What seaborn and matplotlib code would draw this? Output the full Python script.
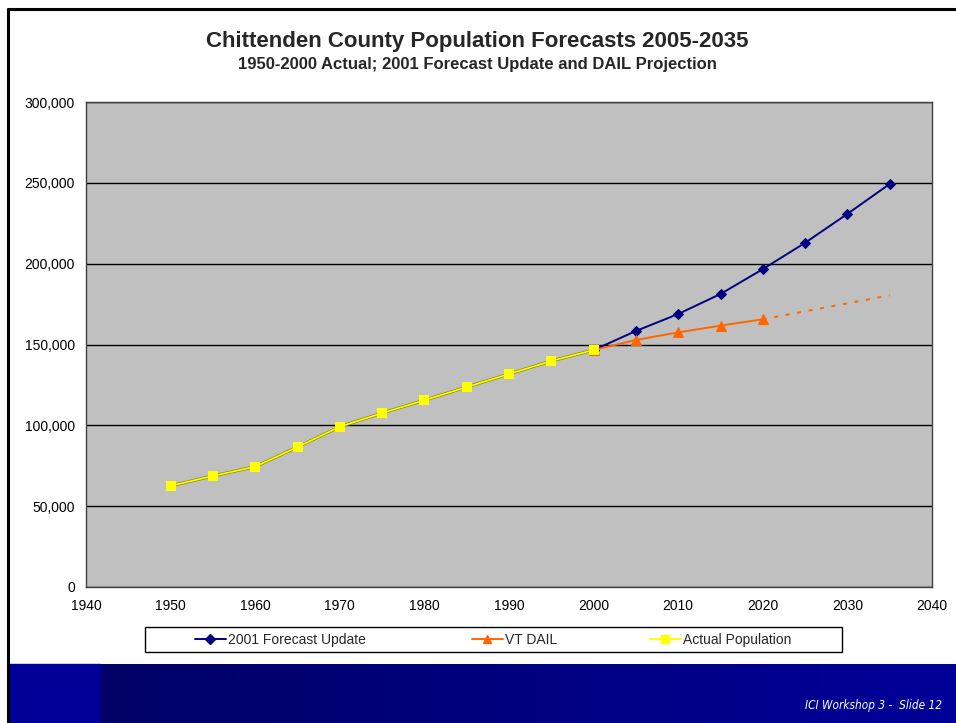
import numpy as np
import pandas as pd
import matplotlib
matplotlib.use("Agg")
import matplotlib.pyplot as plt
import matplotlib.patheffects as pe
from matplotlib.lines import Line2D
from matplotlib.ticker import FuncFormatter, MultipleLocator
import seaborn as sns

# Population series
actual_years = [1950, 1955, 1960, 1965, 1970, 1975, 1980, 1985, 1990, 1995, 2000]
actual_pop = [62570, 68700, 74425, 86600, 99131, 107600, 115534, 123700, 131761, 139800, 146571]

forecast_years = [2000, 2005, 2010, 2015, 2020, 2025, 2030, 2035]
forecast_pop = [146571, 158350, 168870, 181240, 196600, 212900, 230800, 249300]

dail_years = [2000, 2005, 2010, 2015, 2020]
dail_pop = [146571, 152800, 157500, 161650, 165600]

trend_years = [2020, 2035]
trend_pop = [165600, 180400]

series_labels = ["2001 Forecast Update", "VT DAIL", "Actual Population"]
title = "Chittenden County Population Forecasts 2005-2035"
subtitle = "1950-2000 Actual; 2001 Forecast Update and DAIL Projection"
footer = "ICI Workshop 3 -  Slide 12"

NAVY = "#000080"
ORANGE = "#FF6600"
YELLOW = "#FFFF00"

sns.set_style("white")
plt.rcParams["font.family"] = ["Liberation Sans", "DejaVu Sans"]

fig = plt.figure(figsize=(9.56, 7.23), dpi=100)
W, H = 956, 723

# Slide frame and footer band
bg = fig.add_axes([0, 0, 1, 1], zorder=-10)
bg.set_xlim(0, W)
bg.set_ylim(H, 0)
bg.axis("off")
grad = np.linspace(0, 1, 256)
c0 = np.array([0x00, 0x00, 0x66]) / 255
c1 = np.array([0x00, 0x00, 0x99]) / 255
img = (c0[None, :] * (1 - grad[:, None]) + c1[None, :] * grad[:, None])[None, :, :]
bg.imshow(img, extent=[100, W, H, 664], aspect="auto", zorder=0)
bg.add_patch(plt.Rectangle((9, 664), 91, H - 664, color="#000099", zorder=1))
bg.plot([7.5, W], [8.5, 8.5], color="black", lw=2.2, solid_capstyle="butt")
bg.plot([8, 8], [8, H], color="black", lw=2.2, solid_capstyle="butt")
bg.text(942, 705, footer, color="white", fontsize=8.5, style="italic",
        ha="right", va="center", family=["DejaVu Sans"], stretch="condensed")

# Chart area
ax = fig.add_axes([86 / W, 1 - 587 / H, (932 - 86) / W, (587 - 102) / H])
ax.set_facecolor("#C0C0C0")

df_f = pd.DataFrame({"year": forecast_years, "pop": forecast_pop})
df_d = pd.DataFrame({"year": dail_years, "pop": dail_pop})
df_t = pd.DataFrame({"year": trend_years, "pop": trend_pop})
df_a = pd.DataFrame({"year": actual_years, "pop": actual_pop})

sns.lineplot(data=df_f, x="year", y="pop", ax=ax, color=NAVY, lw=1.4,
             marker="D", markersize=5.5, markeredgecolor=NAVY, zorder=3)
sns.lineplot(data=df_d, x="year", y="pop", ax=ax, color=ORANGE, lw=1.4,
             marker="^", markersize=6.5, markeredgecolor=ORANGE, zorder=3)
sns.lineplot(data=df_t, x="year", y="pop", ax=ax, color=ORANGE, lw=1.4,
             linestyle=(0, (2, 4)), zorder=3)
# actual population: yellow line with a dark olive edge, plain square markers
sns.lineplot(data=df_a, x="year", y="pop", ax=ax, color=YELLOW, lw=1.2, zorder=4,
             path_effects=[pe.Stroke(linewidth=2.2, foreground="#8C8C00"), pe.Normal()])
sns.scatterplot(data=df_a, x="year", y="pop", ax=ax, color=YELLOW, marker="s",
                s=42, edgecolor=YELLOW, linewidth=0, zorder=5)

ax.set_xlim(1940, 2040)
ax.set_ylim(0, 300000)
ax.xaxis.set_major_locator(MultipleLocator(10))
ax.yaxis.set_major_locator(MultipleLocator(50000))
ax.yaxis.set_major_formatter(FuncFormatter(lambda v, p: f"{int(v):,}"))
ax.grid(axis="y", color="black", lw=1)
ax.set_axisbelow(True)
ax.set_xlabel("")
ax.set_ylabel("")
for s in ax.spines.values():
    s.set_color("#404040")
    s.set_linewidth(1)
ax.tick_params(axis="both", direction="out", length=5, width=1, color="#404040",
               labelsize=10, labelcolor="black", pad=3)
ax.tick_params(axis="x", pad=4)
if ax.get_legend():
    ax.get_legend().remove()

# Legend: framed box with three entries
leg_box = plt.Rectangle((145, 627), 842 - 145, 25, facecolor="white",
                        edgecolor="black", lw=1, zorder=2)
bg.add_patch(leg_box)
handles = [
    Line2D([], [], color=NAVY, lw=1.4, marker="D", markersize=5, markeredgecolor=NAVY),
    Line2D([], [], color=ORANGE, lw=1.4, marker="^", markersize=6, markeredgecolor=ORANGE),
    Line2D([], [], color=YELLOW, lw=1.4, marker="s", markersize=6, markeredgecolor=YELLOW),
]
text_starts = [228, 505, 683]
for h, lab, xs in zip(handles, series_labels, text_starts):
    lg = fig.legend([h], [lab], loc="center left",
                    bbox_to_anchor=((xs - 33) / W, 1 - 640 / H),
                    frameon=False, fontsize=10, handlelength=2.2,
                    handletextpad=0.2, borderpad=0, borderaxespad=0)
    lg.set_zorder(5)

fig.text(477 / W, 1 - 42 / H, title, ha="center", va="center",
         fontsize=16, fontweight="bold")
fig.text(477 / W, 1 - 65 / H, subtitle, ha="center", va="center",
         fontsize=12, fontweight="bold")

fig.savefig("out.png", dpi=100)
